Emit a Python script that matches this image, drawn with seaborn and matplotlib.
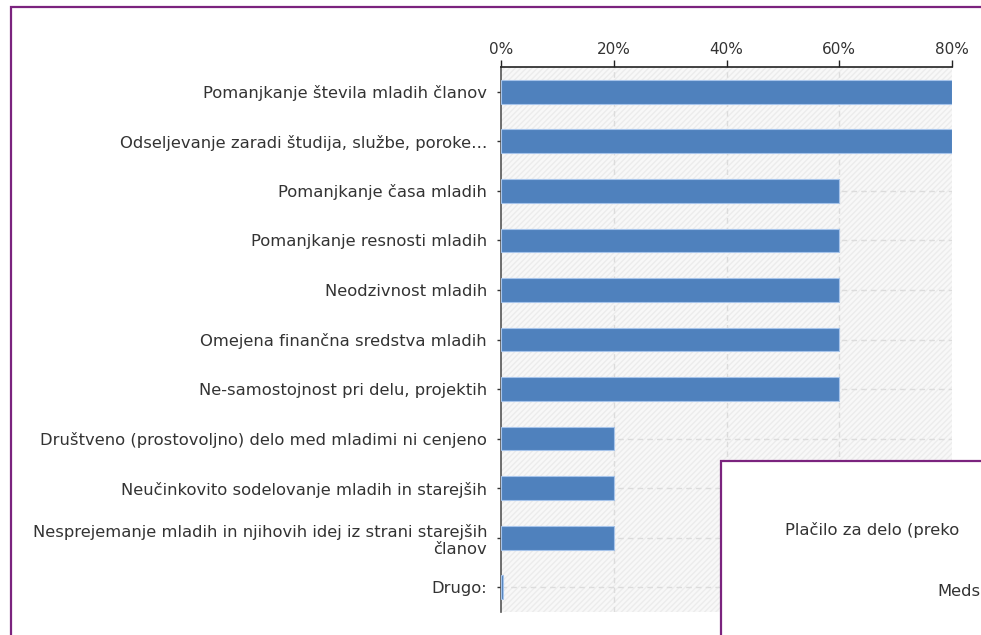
import matplotlib
matplotlib.use("Agg")
import matplotlib.pyplot as plt
import matplotlib.patches as mpatches
from matplotlib.ticker import FuncFormatter
import seaborn as sns
import pandas as pd

categories = [
    "Pomanjkanje števila mladih članov",
    "Odseljevanje zaradi študija, službe, poroke…",
    "Pomanjkanje časa mladih",
    "Pomanjkanje resnosti mladih",
    "Neodzivnost mladih",
    "Omejena finančna sredstva mladih",
    "Ne-samostojnost pri delu, projektih",
    "Društveno (prostovoljno) delo med mladimi ni cenjeno",
    "Neučinkovito sodelovanje mladih in starejših",
    "Nesprejemanje mladih in njihovih idej iz strani starejših\nčlanov",
    "Drugo:",
]
values = [80, 80, 60, 60, 60, 60, 60, 20, 20, 20, 0.4]
xticks = [0, 20, 40, 60, 80]

sns.set_theme(style="white")
plt.rcParams['font.family'] = ['DejaVu Sans']

df = pd.DataFrame({"cat": categories, "val": values})

fig = plt.figure(figsize=(9.81, 6.35), dpi=100)
ax = fig.add_axes([501/981, 1-612/635, (952-501)/981, (612-67)/635])

# hatched background
ax.patch.set_facecolor("#f8f8f8")
ax.patch.set_hatch("//////")
ax.patch.set_edgecolor("#ececec")
ax.patch.set_linewidth(0)

sns.barplot(data=df, y="cat", x="val", orient="h", color="#4f81bd",
            saturation=1, width=0.48, edgecolor="#a7c4ea", linewidth=0.8,
            ax=ax, zorder=3)

ax.set_xlim(0, 80)
ax.set_ylim(len(categories)-0.5, -0.5)
ax.set_xticks(xticks)
ax.xaxis.set_major_formatter(FuncFormatter(lambda v, p: f"{int(v)}%"))
ax.xaxis.tick_top()
ax.set_xlabel("")
ax.set_ylabel("")

for x in xticks[1:-1]:
    ax.axvline(x, color="#dcdcdc", lw=1, ls=(0, (4, 3)), zorder=1)
for i in range(len(categories)):
    ax.axhline(i, color="#dcdcdc", lw=1, ls=(0, (4, 3)), zorder=1)

for s in ["right", "bottom"]:
    ax.spines[s].set_visible(False)
ax.spines["top"].set_color("#222222")
ax.spines["top"].set_linewidth(1.2)
ax.spines["left"].set_color("#555555")
ax.spines["left"].set_linewidth(1.2)

ax.tick_params(axis="x", direction="out", length=5, width=1, color="#222222",
               labelsize=11, labelcolor="#333333", pad=2)
ax.tick_params(axis="y", direction="out", length=3, width=1, color="#333333",
               labelsize=11.8, labelcolor="#333333", pad=7, left=True)
for lab in ax.get_yticklabels():
    lab.set_horizontalalignment("right")
    lab.set_multialignment("right")

top = 1 - 7/635
# outer purple frame
fig.patches.append(mpatches.Rectangle((11/981, -0.2), 1.2, top + 0.2,
                                      transform=fig.transFigure, fill=False,
                                      edgecolor="#7b237e", linewidth=1.6, zorder=10))
# overlapping panel
ptop = 1 - 461/635
fig.patches.append(mpatches.Rectangle((721/981, -0.2), 0.5, ptop + 0.2,
                                      transform=fig.transFigure, facecolor="white",
                                      edgecolor="#7b237e", linewidth=1.6, zorder=10))
fig.text(785/981, 1 - 530/635, "Plačilo za delo (preko", fontsize=11.8,
         color="#333333", ha="left", va="center", zorder=11)
fig.text(937/981, 1 - 591/635, "Meds", fontsize=11.8,
         color="#333333", ha="left", va="center", zorder=11)

fig.savefig("out.png", dpi=100)
